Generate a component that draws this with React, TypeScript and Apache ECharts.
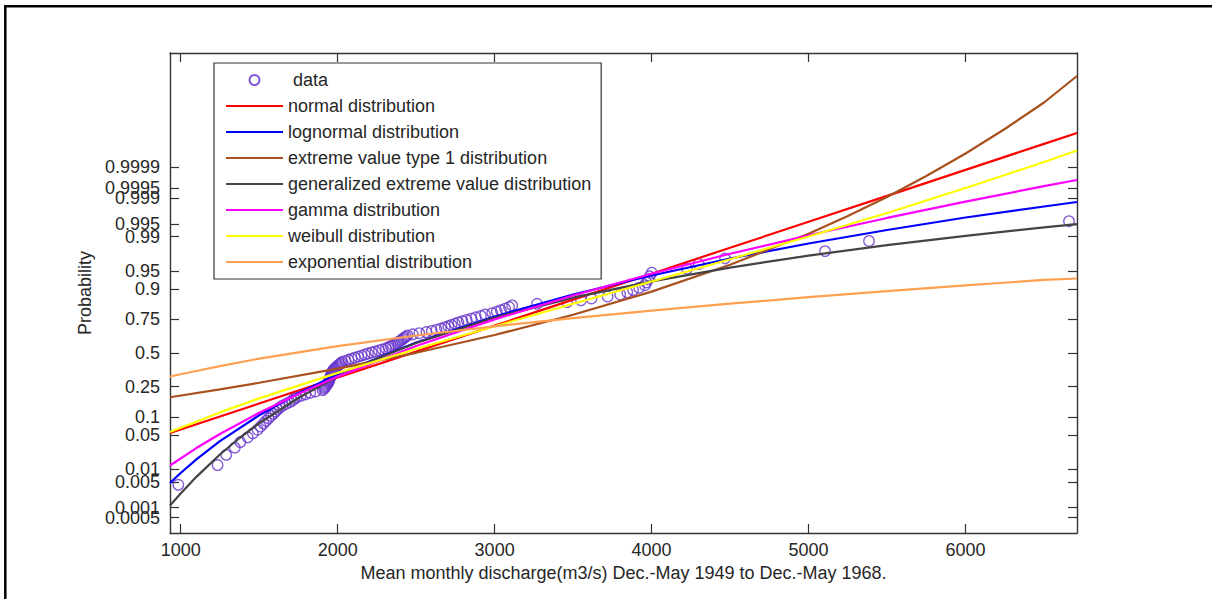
import React, { useEffect, useRef } from "react";
import * as echarts from "echarts";

// ---------- data ----------
// x-axis (discharge, m3/s) extent and ticks
const X_MIN = 932;
const X_MAX = 6710;
const xTicks = [1000, 2000, 3000, 4000, 5000, 6000];

// y-axis: normal probability scale (expressed in standard normal quantile units)
const Z_MIN = -3.6;
const Z_MAX = 6.0;
const probTicks = [0.0005, 0.001, 0.005, 0.01, 0.05, 0.1, 0.25, 0.5, 0.75, 0.9, 0.95, 0.99, 0.995, 0.999, 0.9995, 0.9999];

// observed data: sorted discharge values and their plotting probabilities
const discharge = [
  985, 1235, 1290, 1345, 1380, 1427, 1460, 1490, 1509, 1528,
  1544, 1560, 1575, 1591, 1604, 1617, 1630, 1649, 1671, 1694,
  1710, 1724, 1739, 1766, 1795, 1825, 1859, 1904, 1913, 1919,
  1925, 1931, 1937, 1941, 1944, 1947, 1950, 1953, 1955, 1958,
  1961, 1964, 1967, 1970, 1975, 1983, 1990, 1998, 2006, 2013,
  2021, 2029, 2049, 2069, 2089, 2110, 2131, 2152, 2172, 2193,
  2217, 2240, 2263, 2285, 2308, 2325, 2338, 2352, 2366, 2379,
  2388, 2398, 2408, 2417, 2426, 2436, 2445, 2479, 2520, 2565,
  2600, 2630, 2658, 2683, 2705, 2725, 2747, 2769, 2795, 2822,
  2852, 2880, 2913, 2939, 2985, 3014, 3040, 3067, 3092, 3112,
  3270, 3462, 3550, 3617, 3720, 3800, 3845, 3882, 3920, 3958,
  3967, 3978, 3988, 4001, 4226, 4300, 4468, 5105, 5385, 6659,
];
const plotProbability = [
  0.0042, 0.0125, 0.0208, 0.0292, 0.0375, 0.0458, 0.0542, 0.0625, 0.0708, 0.0792,
  0.0875, 0.0958, 0.1042, 0.1125, 0.1208, 0.1292, 0.1375, 0.1458, 0.1542, 0.1625,
  0.1708, 0.1792, 0.1875, 0.1958, 0.2042, 0.2125, 0.2208, 0.2292, 0.2375, 0.2458,
  0.2542, 0.2625, 0.2708, 0.2792, 0.2875, 0.2958, 0.3042, 0.3125, 0.3208, 0.3292,
  0.3375, 0.3458, 0.3542, 0.3625, 0.3708, 0.3792, 0.3875, 0.3958, 0.4042, 0.4125,
  0.4208, 0.4292, 0.4375, 0.4458, 0.4542, 0.4625, 0.4708, 0.4792, 0.4875, 0.4958,
  0.5042, 0.5125, 0.5208, 0.5292, 0.5375, 0.5458, 0.5542, 0.5625, 0.5708, 0.5792,
  0.5875, 0.5958, 0.6042, 0.6125, 0.6208, 0.6292, 0.6375, 0.6458, 0.6542, 0.6625,
  0.6708, 0.6792, 0.6875, 0.6958, 0.7042, 0.7125, 0.7208, 0.7292, 0.7375, 0.7458,
  0.7542, 0.7625, 0.7708, 0.7792, 0.7875, 0.7958, 0.8042, 0.8125, 0.8208, 0.8292,
  0.8375, 0.8458, 0.8542, 0.8625, 0.8708, 0.8792, 0.8875, 0.8958, 0.9042, 0.9125,
  0.9208, 0.9292, 0.9375, 0.9458, 0.9542, 0.9625, 0.9708, 0.9792, 0.9875, 0.9958,
];

// fitted curves: [discharge, standard normal quantile of probability]
const normalFit = [
  [932, -1.6], [1500, -1.01], [2000, -0.491], [2500, 0.028], [3000, 0.547], [3500, 1.067],
  [4000, 1.586], [4500, 2.105], [5000, 2.624], [5500, 3.143], [6000, 3.663], [6500, 4.182], [6710, 4.4],
];
const lognormalFit = [
  [932, -2.6], [1000, -2.40], [1100, -2.128], [1250, -1.764], [1500, -1.245], [1750, -0.806],
  [2000, -0.425], [2500, 0.21], [3000, 0.73], [3500, 1.17], [4000, 1.55], [4500, 1.89],
  [5000, 2.19], [5500, 2.46], [6000, 2.71], [6500, 2.93], [6710, 3.02],
];
const ev1Fit = [
  [932, -0.885], [1250, -0.727], [1500, -0.595], [2000, -0.312], [2500, 0.004],
  [3000, 0.361], [3500, 0.764], [4000, 1.228], [4500, 1.764], [5000, 2.387], [5250, 2.74],
  [5500, 3.12], [5750, 3.54], [6000, 3.99], [6250, 4.48], [6500, 5.01], [6710, 5.54],
];
const gevFit = [
  [932, -3.05], [1000, -2.81], [1100, -2.477], [1250, -2.03], [1375, -1.7], [1500, -1.405],
  [1750, -0.9], [2000, -0.468], [2250, -0.115], [2500, 0.201], [3000, 0.707], [3500, 1.106],
  [4000, 1.434], [4500, 1.709], [5000, 1.948], [5500, 2.157], [6000, 2.343], [6500, 2.512], [6710, 2.576],
];
const gammaFit = [
  [932, -2.25], [1100, -1.901], [1250, -1.619], [1500, -1.196], [1750, -0.818], [2000, -0.472],
  [2500, 0.139], [3000, 0.673], [3500, 1.151], [4000, 1.585], [4500, 1.984], [5000, 2.354],
  [5500, 2.701], [6000, 3.027], [6500, 3.336], [6710, 3.46],
];
const weibullFit = [
  [932, -1.58], [1250, -1.188], [1500, -0.908], [2000, -0.397], [2500, 0.079],
  [3000, 0.536], [3500, 0.985], [4000, 1.43], [4500, 1.876], [5000, 2.33], [5500, 2.8],
  [6000, 3.3], [6500, 3.82], [6710, 4.05],
];
const exponentialFit = [
  [932, -0.47], [1100, -0.36], [1250, -0.261], [1500, -0.113], [2000, 0.138], [2500, 0.35],
  [3000, 0.534], [3500, 0.699], [4000, 0.849], [4500, 0.987], [5000, 1.116], [5500, 1.238],
  [6000, 1.352], [6500, 1.461], [6710, 1.49],
];

const seriesNames = [
  "data",
  "normal distribution",
  "lognormal distribution",
  "extreme value type 1 distribution",
  "generalized extreme value distribution",
  "gamma distribution",
  "weibull distribution",
  "exponential distribution",
];

// ---------- helpers ----------
// inverse standard normal CDF (Acklam) — the axis transform of a normal probability plot
function probit(p: number): number {
  const a = [-3.969683028665376e1, 2.209460984245205e2, -2.759285104469687e2, 1.38357751867269e2, -3.066479806614716e1, 2.506628277459239];
  const b = [-5.447609879822406e1, 1.615858368580409e2, -1.556989798598866e2, 6.680131188771972e1, -1.328068155288572e1];
  const c = [-7.784894002430293e-3, -3.223964580411365e-1, -2.400758277161838, -2.549732539343734, 4.374664141464968, 2.938163982698783];
  const d = [7.784695709041462e-3, 3.224671290700398e-1, 2.445134137142996, 3.754408661907416];
  const pl = 0.02425;
  if (p < pl) {
    const q = Math.sqrt(-2 * Math.log(p));
    return (((((c[0] * q + c[1]) * q + c[2]) * q + c[3]) * q + c[4]) * q + c[5]) / ((((d[0] * q + d[1]) * q + d[2]) * q + d[3]) * q + 1);
  }
  if (p <= 1 - pl) {
    const q = p - 0.5;
    const r = q * q;
    return ((((((a[0] * r + a[1]) * r + a[2]) * r + a[3]) * r + a[4]) * r + a[5]) * q) / (((((b[0] * r + b[1]) * r + b[2]) * r + b[3]) * r + b[4]) * r + 1);
  }
  const q = Math.sqrt(-2 * Math.log(1 - p));
  return -(((((c[0] * q + c[1]) * q + c[2]) * q + c[3]) * q + c[4]) * q + c[5]) / ((((d[0] * q + d[1]) * q + d[2]) * q + d[3]) * q + 1);
}

const FONT = "'Liberation Sans', Arial, Helvetica, sans-serif";
const TEXT = "#262626";
const AXIS = "#333333";

export default function App() {
  const ref = useRef<HTMLDivElement>(null);

  useEffect(() => {
    if (!ref.current) return;
    const chart = echarts.init(ref.current, null, { renderer: "svg" });

    const zTicks = probTicks.map(probit);
    // a blank placeholder label at the axis minimum keeps ECharts' min-label
    // overlap rule from dropping the (deliberately overlapping) 0.001 label
    const zLabelValues = [Z_MIN, ...zTicks];
    const labelFor = (v: number) => {
      for (let i = 0; i < zTicks.length; i++) {
        if (Math.abs(zTicks[i] - v) < 1e-6) return String(probTicks[i]);
      }
      return "";
    };

    const scatterData = discharge.map((x, i) => [x, probit(plotProbability[i])]);

    const lineSeries = (name: string, data: number[][], color: string) => ({
      name,
      type: "line",
      data,
      xAxisIndex: 0,
      yAxisIndex: 0,
      smooth: false,
      symbol: "none",
      showSymbol: false,
      lineStyle: { color, width: 2.2 },
      itemStyle: { color },
      emphasis: { disabled: true },
      z: 3,
    });

    const legendData = seriesNames.map((name) =>
      name === "data" ? { name } : { name, itemStyle: { opacity: 0 } }
    );

    const option: any = {
      animation: false,
      backgroundColor: "#ffffff",
      textStyle: { fontFamily: FONT },
      graphic: [
        {
          type: "rect",
          silent: true,
          shape: { x: 5.3, y: 6.2, width: 1400, height: 800 },
          style: { fill: "none", stroke: "#000", lineWidth: 2.5 },
        },
      ],
      grid: { left: 170, top: 53, width: 907, height: 480, containLabel: false },
      legend: {
        data: legendData,
        orient: "vertical",
        left: 214,
        top: 63,
        padding: [8, 10, 8, 11],
        itemWidth: 57,
        itemHeight: 10,
        itemGap: 8,
        itemTextGap: 5,
        backgroundColor: "#fff",
        borderColor: "#333",
        borderWidth: 1.2,
        selectedMode: false,
        formatter: (name: string) => (name === "data" ? " data" : name),
        textStyle: { fontFamily: FONT, fontSize: 18, lineHeight: 18, color: TEXT },
      },
      xAxis: [
        {
          type: "value",
          min: X_MIN,
          max: X_MAX,
          position: "bottom",
          name: "Mean monthly discharge(m3/s) Dec.-May 1949 to Dec.-May 1968.",
          nameLocation: "middle",
          nameGap: 30,
          nameTextStyle: { fontFamily: FONT, fontSize: 18, color: TEXT },
          axisLine: { show: true, onZero: false, lineStyle: { color: AXIS, width: 1.4 } },
          axisTick: { show: true, inside: true, length: 9, customValues: xTicks, lineStyle: { color: AXIS, width: 1.2 } },
          axisLabel: {
            show: true,
            customValues: xTicks,
            margin: 8,
            fontFamily: FONT,
            fontSize: 18,
            color: TEXT,
            formatter: (v: number) => String(v),
          },
          splitLine: { show: false },
        },
        {
          type: "value",
          min: X_MIN,
          max: X_MAX,
          position: "top",
          axisLine: { show: true, onZero: false, lineStyle: { color: AXIS, width: 1.4 } },
          axisTick: { show: true, inside: true, length: 9, customValues: xTicks, lineStyle: { color: AXIS, width: 1.2 } },
          axisLabel: { show: false },
          splitLine: { show: false },
        },
      ],
      yAxis: [
        {
          type: "value",
          min: Z_MIN,
          max: Z_MAX,
          position: "left",
          name: "Probability",
          nameLocation: "middle",
          nameGap: 67,
          nameRotate: 90,
          nameTextStyle: { fontFamily: FONT, fontSize: 18, color: TEXT },
          axisLine: { show: true, onZero: false, lineStyle: { color: AXIS, width: 1.4 } },
          axisTick: { show: true, inside: true, length: 9, customValues: zTicks, lineStyle: { color: AXIS, width: 1.2 } },
          axisLabel: {
            show: true,
            customValues: zLabelValues,
            showMinLabel: false,
            showMaxLabel: true,
            hideOverlap: false,
            margin: 10,
            fontFamily: FONT,
            fontSize: 18,
            color: TEXT,
            formatter: (v: number) => labelFor(v),
          },
          splitLine: { show: false },
        },
        {
          type: "value",
          min: Z_MIN,
          max: Z_MAX,
          position: "right",
          axisLine: { show: true, onZero: false, lineStyle: { color: AXIS, width: 1.4 } },
          axisTick: { show: true, inside: true, length: 9, customValues: zTicks, lineStyle: { color: AXIS, width: 1.2 } },
          axisLabel: { show: false },
          splitLine: { show: false },
        },
      ],
      series: [
        {
          name: "data",
          type: "scatter",
          data: scatterData,
          xAxisIndex: 0,
          yAxisIndex: 0,
          symbol: "circle",
          symbolSize: 10.5,
          itemStyle: { color: "rgba(255,255,255,0)", borderColor: "#6633CC", borderWidth: 1.3 },
          emphasis: { disabled: true },
          z: 2,
        },
        lineSeries("normal distribution", normalFit, "#FF0000"),
        lineSeries("lognormal distribution", lognormalFit, "#0000FF"),
        lineSeries("extreme value type 1 distribution", ev1Fit, "#A8501E"),
        lineSeries("generalized extreme value distribution", gevFit, "#444444"),
        lineSeries("gamma distribution", gammaFit, "#FF00FF"),
        lineSeries("weibull distribution", weibullFit, "#FFFF00"),
        lineSeries("exponential distribution", exponentialFit, "#FFA050"),
      ],
    };

    chart.setOption(option);
    return () => chart.dispose();
  }, []);

  return (
    <div
      ref={ref}
      style={{ position: "fixed", left: 0, top: 0, width: 1212, height: 599, background: "#fff" }}
    />
  );
}
